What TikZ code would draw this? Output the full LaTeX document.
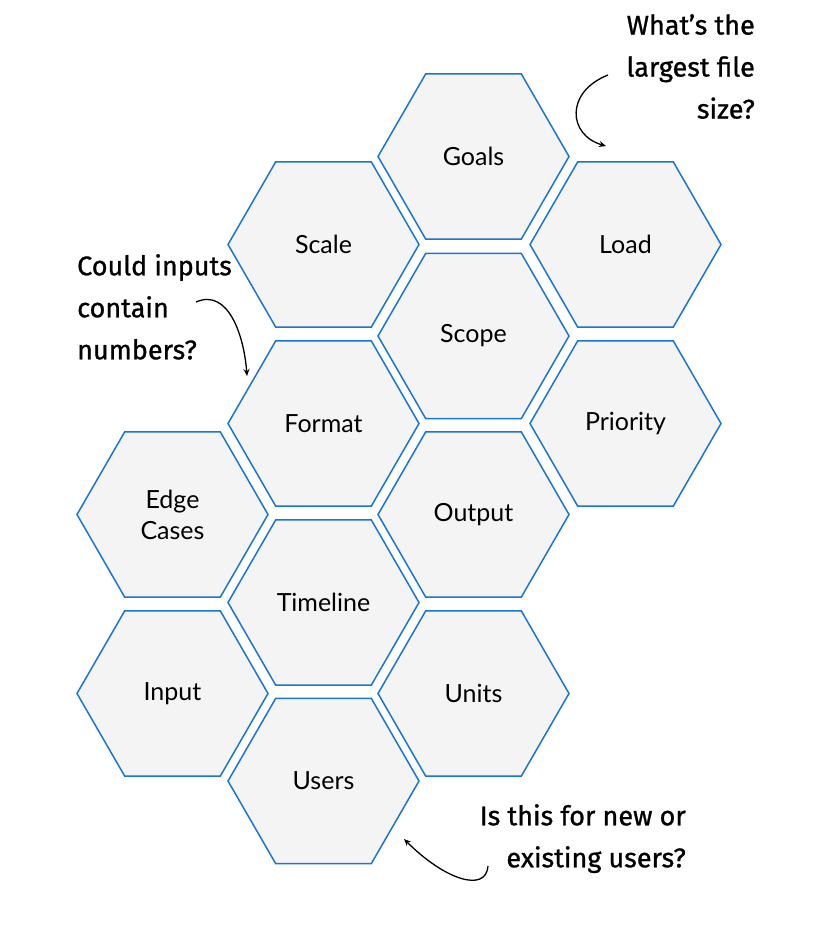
\documentclass[tikz,border=0pt]{standalone}
\usepackage{fontspec}
\newfontfamily\hexfont{Lato}
\newfontfamily\notefont{Fira Sans}[FakeBold=1]
\usetikzlibrary{arrows.meta,shapes.geometric}
\definecolor{hexblue}{RGB}{25,118,210}
\definecolor{hexfill}{RGB}{244,244,244}
\tikzset{
  px/.style={x=1pt, y=-1pt},
  h cell/.style={regular polygon, regular polygon sides=6, minimum size=191pt, inner sep=0pt,
                 draw=hexblue, line width=1.5pt, fill=hexfill, align=center,
                 font=\hexfont\fontsize{25}{31}\selectfont},
  n text/.style={font=\notefont\fontsize{27}{42}\selectfont, inner sep=0pt},
  n arr/.style={-{Stealth[length=7pt, width=6pt]}, line width=1.3pt, black},
}
\begin{document}
\begin{tikzpicture}[px]
\useasboundingbox (0,0) rectangle (832,926);
% ---- hexagons ----
\node[h cell] (goals) at (473.5,156.5) {Goals};
\node[h cell] (scale) at (323.5,244.5) {Scale};
\node[h cell] (load) at (625.5,244.5) {Load};
\node[h cell] (scope) at (473.5,336) {Scope};
\node[h cell] (format) at (323.5,423.5) {Format};
\node[h cell] (prio) at (625.5,423.5) {Priority};
\node[h cell] (edge) at (172.5,514.5) {Edge\\Cases};
\node[h cell] (output) at (473.5,514.5) {Output};
\node[h cell] (timeline) at (323.5,602.5) {Timeline};
\node[h cell] (input) at (172.5,693.5) {Input};
\node[h cell] (units) at (473.5,693.5) {Units};
\node[h cell] (users) at (323.5,781) {Users};
% ---- notes ----
\node[n text, align=right, anchor=north east] (qsize) at (755,14) {What’s the\\largest file\\size?};
\node[n text, align=left, anchor=north west] (qnum) at (77,254) {Could inputs\\contain\\numbers?};
\node[n text, align=right, anchor=north east] (qusers) at (686,804) {Is this for new or\\existing users?};
% ---- arrows ----
\coordinate (s1) at (608,75);  \coordinate (e1) at (606,146);
\coordinate (s2) at (196,302); \coordinate (e2) at (247,376);
\coordinate (s3) at (488,866); \coordinate (e3) at (404,839);
\draw[n arr] (s1) .. controls (565,92) and (568,135) .. (e1);
\draw[n arr] (s2) .. controls (228,288) and (244,335) .. (e2);
\draw[n arr] (s3) .. controls (486,893) and (445,880) .. (e3);
\end{tikzpicture}
\end{document}
